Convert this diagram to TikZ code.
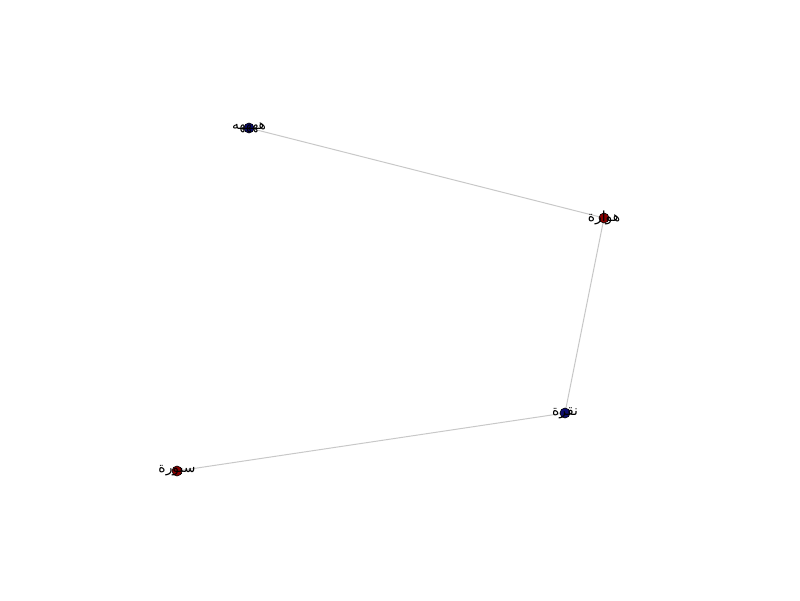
\documentclass[tikz,border=0pt]{standalone}
\usepackage{fontspec}
\usetikzlibrary{backgrounds}
\TeXXeTstate=1
\newfontfamily\arabicfont[Script=Arabic]{DejaVu Sans}
\definecolor{nodeblue}{HTML}{0B0B6E}
\definecolor{nodered}{HTML}{8B0000}
\definecolor{edgegray}{HTML}{C8C8C8}
\tikzset{
  x=1pt, y=-1pt,
  dot/.style={circle, draw=black, line width=0.6pt, minimum size=10pt, inner sep=0pt},
  bluedot/.style={dot, fill=nodeblue},
  reddot/.style={dot, fill=nodered},
  edge/.style={draw=edgegray, line width=1pt},
  lbl/.style={font=\arabicfont\fontsize{13.9}{16}\selectfont, text=black, inner sep=0pt}
}
\begin{document}
\begin{tikzpicture}
\useasboundingbox (0,0) rectangle (800,600);
\node[bluedot] (a) at (249,128) {};
\node[reddot]  (b) at (604,218) {};
\node[bluedot] (c) at (565,413) {};
\node[reddot]  (d) at (177,471) {};
\begin{scope}[on background layer]
\draw[edge] (a.center) -- (b.center);
\draw[edge] (b.center) -- (c.center);
\draw[edge] (c.center) -- (d.center);
\end{scope}
\node[lbl] (la) at (a) {\beginR ههههه\endR};
\node[lbl] (lb) at (b) {\beginR هوارة\endR};
\node[lbl] (lc) at (c) {\beginR نقرة\endR};
\node[lbl] (ld) at (d) {\beginR سبورة\endR};
\end{tikzpicture}
\end{document}
